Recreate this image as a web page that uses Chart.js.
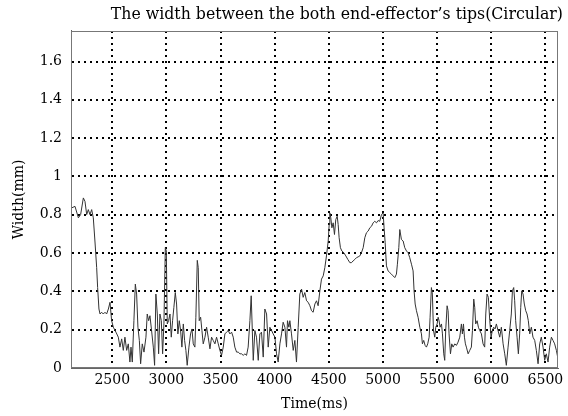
<!DOCTYPE html>
<html>
<head>
<meta charset="utf-8">
<script src="https://cdn.jsdelivr.net/npm/chart.js@4"></script>
<style>
html,body{margin:0;padding:0;background:#fff;}
#wrap{width:568px;height:416px;}
</style>
</head>
<body>
<div id="wrap"><canvas id="c" width="568" height="416"></canvas></div>
<script>
const chartTitle = "The width between the both end-effector\u2019s tips(Circular)";
const xAxisTitle = "Time(ms)";
const yAxisTitle = "Width(mm)";

const xTickValues = [2500, 3000, 3500, 4000, 4500, 5000, 5500, 6000, 6500];
const xTickLabels = ["2500", "3000", "3500", "4000", "4500", "5000", "5500", "6000", "6500"];
const yTickValues = [0, 0.2, 0.4, 0.6, 0.8, 1.0, 1.2, 1.4, 1.6];
const yTickLabels = ["0", "0.2", "0.4", "0.6", "0.8", "1", "1.2", "1.4", "1.6"];

const timeMs = [
2125,2156,2187,2208,2233,2248,2264,2279,2294,2310,2325,2340,2356,2365,2377,2387,2402,2417,2433,2448,
2464,2479,2494,2510,2534,2556,2571,2587,2602,2617,2633,2648,2663,2673,2685,2700,2713,2725,2737,2750,
2762,2777,2793,2811,2823,2836,2848,2863,2879,2891,2903,2916,2928,2940,2953,2965,2977,2990,2999,3008,
3020,3033,3045,3057,3069,3082,3094,3106,3119,3131,3143,3156,3168,3180,3192,3208,3223,3236,3248,3263,
3272,3285,3294,3303,3316,3328,3340,3356,3371,3386,3402,3417,3432,3448,3463,3479,3494,3509,3525,3540,
3555,3571,3586,3602,3617,3632,3648,3663,3679,3694,3709,3725,3740,3755,3771,3783,
3802,3817,3832,3848,3863,3878,3894,3909,3925,3940,3955,3971,3986,4002,4017,4032,4048,4063,4078,4094,
4109,4118,4131,4140,4155,4171,4186,4201,4217,4232,4248,4263,4278,4294,4309,4325,4340,4355,4371,4386,
4401,4417,4432,4448,4463,4478,4494,4503,4509,4518,4528,4540,4552,4564,4577,4586,4595,4607,4620,4638,
4657,4675,4694,4709,4724,4740,4755,4770,4786,4801,4817,4832,4847,4863,4878,4894,4909,4924,4940,4955,
4970,4986,5001,5010,5020,5032,5047,5063,5078,5093,5109,5124,5133,5146,
5155,5170,5186,5201,5217,5232,5247,5263,5278,5287,5297,5309,5324,5340,5355,5364,5376,5389,5401,5413,
5426,5435,5447,5456,5466,5478,5487,5500,5509,5518,5527,5540,5549,5561,5570,5579,5592,5601,5610,5623,
5635,5647,5663,5678,5693,5709,5724,5733,5743,5752,5761,5770,5786,5801,5816,5826,5838,5847,5856,5869,
5881,5893,5909,5924,5939,5949,5961,5973,5986,5998,6010,6022,6035,6047,6062,6078,6093,6109,6124,6139,
6155,6170,6185,6195,6207,6216,6225,6238,6250,6262,6272,6281,6293,6305,6318,6330,6342,6355,6370,6385,
6401,6416,6432,6447,6462,6478,6493,6508,6524,6539,6555,6570,6585,6601,6613
];

const widthMm = [
0.836,0.844,0.784,0.801,0.888,0.870,0.801,0.827,0.801,0.827,0.784,0.663,0.524,0.420,0.308,0.282,0.291,0.282,0.291,0.282,
0.308,0.343,0.247,0.213,0.187,0.161,0.109,0.152,0.092,0.161,0.092,0.126,0.031,0.109,0.031,0.247,0.438,0.386,0.213,0.144,
0.022,0.126,0.083,0.161,0.282,0.247,0.273,0.196,0.109,0.014,0.386,0.282,0.074,0.282,0.247,0.074,0.230,0.628,0.611,0.230,
0.247,0.282,0.161,0.247,0.317,0.394,0.334,0.178,0.247,0.196,0.109,0.230,0.144,0.092,0.014,0.109,0.178,0.204,0.126,0.109,
0.265,0.562,0.524,0.247,0.265,0.196,0.126,0.161,0.213,0.161,0.100,0.161,0.144,0.126,0.161,0.126,0.092,0.066,0.109,0.178,
0.187,0.196,0.178,0.187,0.161,0.109,0.083,0.083,0.074,0.074,0.066,0.074,0.066,0.109,0.247,0.377,
0.040,0.196,0.161,0.040,0.178,0.187,0.057,0.308,0.282,0.109,0.213,0.196,0.178,0.161,0.074,0.031,0.126,0.178,0.239,0.213,
0.109,0.247,0.213,0.247,0.178,0.092,0.144,0.031,0.213,0.386,0.412,0.369,0.394,0.351,0.343,0.325,0.299,0.291,0.334,0.351,
0.325,0.403,0.464,0.481,0.524,0.585,0.663,0.749,0.810,0.784,0.732,0.758,0.697,0.775,0.792,0.749,0.680,0.628,0.611,0.602,
0.585,0.567,0.550,0.550,0.559,0.567,0.576,0.580,0.585,0.602,0.628,0.680,0.706,0.715,0.732,0.740,0.758,0.766,0.758,0.770,
0.766,0.801,0.810,0.732,0.654,0.533,0.507,0.498,0.490,0.481,0.472,0.490,0.542,0.628,
0.723,0.671,0.663,0.628,0.611,0.602,0.576,0.542,0.507,0.403,0.334,0.299,0.265,0.213,0.178,0.126,0.144,0.118,0.109,0.126,
0.161,0.265,0.420,0.386,0.196,0.161,0.213,0.230,0.265,0.247,0.213,0.230,0.178,0.074,0.040,0.196,0.325,0.299,0.178,0.074,
0.126,0.109,0.126,0.118,0.135,0.161,0.230,0.178,0.230,0.161,0.126,0.109,0.074,0.092,0.109,0.196,0.360,0.317,0.230,0.247,
0.213,0.196,0.178,0.126,0.109,0.282,0.386,0.369,0.247,0.161,0.196,0.213,0.204,0.230,0.196,0.161,0.213,0.126,0.074,0.014,
0.109,0.196,0.282,0.403,0.420,0.351,0.247,0.161,0.074,0.178,0.317,0.403,0.386,0.334,0.299,0.282,0.247,0.178,0.213,0.161,
0.144,0.092,0.022,0.126,0.161,0.109,0.040,0.074,0.031,0.109,0.161,0.144,0.126,0.092,0.057
];

const points = timeMs.map((t, i) => ({x: t, y: widthMm[i]}));

const frameBox = {
  id: 'frameBox',
  afterDatasetsDraw(chart) {
    const a = chart.chartArea, ctx = chart.ctx;
    ctx.save();
    ctx.strokeStyle = '#777';
    ctx.lineWidth = 1;
    ctx.strokeRect(Math.round(a.left) + 0.5, Math.round(a.top) + 0.5,
                   Math.round(a.right - a.left) - 1, Math.round(a.bottom - a.top) - 1);
    ctx.restore();
  }
};

const serif = 'DejaVu Serif';
Chart.defaults.color = '#000';

new Chart(document.getElementById('c'), {
  type: 'line',
  data: {
    datasets: [{
      data: points,
      borderColor: '#333',
      borderWidth: 1,
      pointRadius: 0,
      tension: 0,
      fill: false
    }]
  },
  options: {
    responsive: false,
    animation: false,
    layout: {padding: {left: 0, right: 5, top: 0, bottom: 0}},
    plugins: {
      legend: {display: false},
      tooltip: {enabled: false},
      title: {
        display: true,
        text: chartTitle,
        align: 'end',
        color: '#000',
        font: {family: serif, size: 15.75, weight: 'normal'},
        padding: {top: 5, bottom: 7}
      }
    },
    scales: {
      x: {
        type: 'linear',
        min: 2119,
        max: 6616,
        afterBuildTicks: s => { s.ticks = xTickValues.map(v => ({value: v})); },
        afterFit: s => { s.height = 48; },
        grid: {color: '#000', lineWidth: 2, drawTicks: false, tickLength: 0},
        border: {display: true, color: '#666', width: 1, dash: [2, 4]},
        ticks: {
          autoSkip: false, maxRotation: 0, padding: 4,
          font: {family: serif, size: 14},
          callback: (v, i) => xTickLabels[i]
        },
        title: {display: true, text: xAxisTitle, font: {family: serif, size: 14}, padding: {top: 0, bottom: 3}}
      },
      y: {
        type: 'linear',
        min: 0,
        max: 1.76,
        afterBuildTicks: s => { s.ticks = yTickValues.map(v => ({value: v})); },
        afterFit: s => { s.width = 71; },
        grid: {color: '#000', lineWidth: 2, drawTicks: false, tickLength: 0},
        border: {display: true, color: '#666', width: 1, dash: [2, 4]},
        ticks: {
          padding: 9,
          font: {family: serif, size: 14},
          callback: (v, i) => yTickLabels[i]
        },
        title: {display: true, text: yAxisTitle, font: {family: serif, size: 14}, padding: {top: 11, bottom: 0}}
      },
      y2: {
        type: 'linear',
        position: 'right',
        display: true,
        afterFit: s => { s.width = 5; },
        grid: {display: false, drawTicks: false},
        border: {display: false},
        ticks: {display: false}
      }
    }
  },
  plugins: [frameBox]
});
</script>
</body>
</html>
